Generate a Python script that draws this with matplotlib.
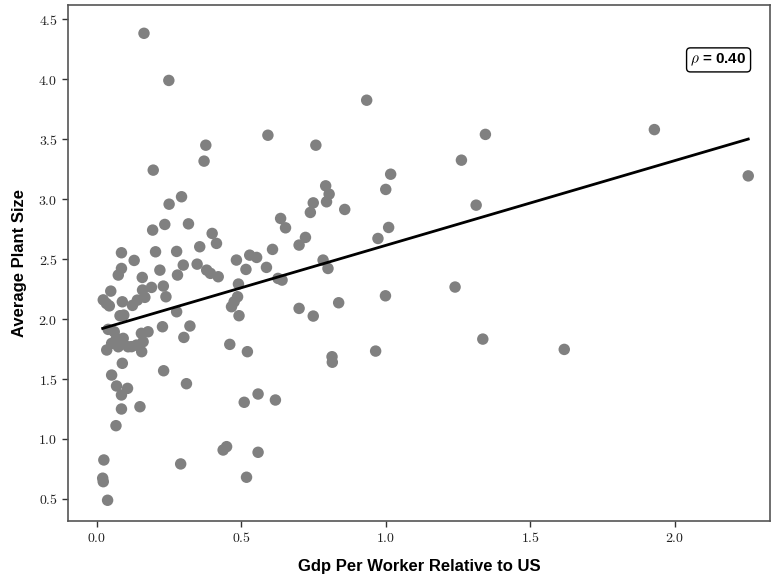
import numpy as np
import matplotlib
matplotlib.use("Agg")
import matplotlib.pyplot as plt
from matplotlib.ticker import FuncFormatter

plt.rcParams['mathtext.fontset'] = 'cm'

# GDP per worker relative to US (x) and average plant size (y)
gdp = [
    0.163, 0.249, 0.377, 0.371, 0.195, 0.293, 0.250, 0.235, 0.317, 0.193,
    0.399, 0.356, 0.414, 0.203, 0.276, 0.085, 0.129, 0.085, 0.074, 0.218,
    0.299, 0.279, 0.347, 0.380, 0.393, 0.420, 0.483, 0.529, 0.553, 0.516,
    0.157, 0.048, 0.022, 0.033, 0.043, 0.088, 0.158, 0.189, 0.230, 0.166,
    0.140, 0.123, 0.239, 0.080, 0.093, 0.276, 0.490, 0.487, 0.475, 0.466,
    0.492, 0.039, 0.060, 0.227, 0.322, 0.301, 0.460, 0.521,
    0.034, 0.051, 0.068, 0.074, 0.091, 0.108, 0.137, 0.154, 0.177, 0.160,
    0.155, 0.085, 0.120,
    0.088, 0.051, 0.231, 0.068, 0.106, 0.085, 0.085, 0.149, 0.066, 0.310,
    0.510, 0.558, 0.618, 0.024, 0.020, 0.022, 0.037, 0.290, 0.437, 0.449,
    0.518, 0.558,
    0.792, 0.804, 0.795, 0.749, 0.739, 0.858, 1.000, 1.010, 0.973, 0.636,
    0.653, 0.722, 0.700, 0.608, 0.587, 0.627, 0.641, 0.783, 0.800, 0.700,
    0.749, 0.837, 0.999, 0.814, 0.815, 0.965,
    0.592, 0.758, 0.934, 1.017,
    1.345, 1.262, 1.313, 1.930, 2.255, 1.240, 1.336, 1.618,
]
plant_size = [
    4.383, 3.990, 3.450, 3.317, 3.242, 3.020, 2.958, 2.789, 2.794, 2.742,
    2.714, 2.603, 2.631, 2.561, 2.564, 2.553, 2.489, 2.422, 2.367, 2.408,
    2.450, 2.367, 2.458, 2.408, 2.381, 2.353, 2.492, 2.533, 2.514, 2.414,
    2.347, 2.233, 2.160, 2.130, 2.110, 2.144, 2.242, 2.264, 2.275, 2.181,
    2.158, 2.114, 2.186, 2.028, 2.033, 2.061, 2.292, 2.186, 2.144, 2.103,
    2.028, 1.914, 1.894, 1.936, 1.942, 1.847, 1.789, 1.728,
    1.742, 1.797, 1.839, 1.769, 1.839, 1.769, 1.783, 1.881, 1.894, 1.811,
    1.728, 1.820, 1.770,
    1.631, 1.533, 1.569, 1.442, 1.422, 1.367, 1.250, 1.269, 1.111, 1.461,
    1.306, 1.375, 1.325, 0.825, 0.673, 0.644, 0.489, 0.792, 0.908, 0.936,
    0.681, 0.889,
    3.111, 3.042, 2.978, 2.969, 2.889, 2.914, 3.081, 2.764, 2.672, 2.839,
    2.761, 2.681, 2.617, 2.581, 2.431, 2.339, 2.325, 2.492, 2.422, 2.089,
    2.025, 2.136, 2.194, 1.686, 1.640, 1.733,
    3.533, 3.450, 3.825, 3.208,
    3.540, 3.325, 2.950, 3.580, 3.194, 2.267, 1.833, 1.747,
]
rho_value = 0.40
x_ticks = [0.0, 0.5, 1.0, 1.5, 2.0]
y_ticks = [0.5, 1.0, 1.5, 2.0, 2.5, 3.0, 3.5, 4.0, 4.5]

x = np.array(gdp)
y = np.array(plant_size)

fig = plt.figure(figsize=(7.73, 5.82), dpi=100)
ax = fig.add_axes([0.088, 0.105, 0.908, 0.886])

ax.scatter(x, y, s=68, color='#808080', edgecolors='none', zorder=2)

slope, intercept = np.polyfit(x, y, 1)
xl = np.array([x.min(), x.max()])
ax.plot(xl, intercept + slope * xl, color='black', lw=2, zorder=3)

ax.set_xlim(-0.10, 2.33)
ax.set_ylim(0.317, 4.617)
ax.set_xticks(x_ticks)
ax.set_yticks(y_ticks)
fmt = FuncFormatter(lambda v, p: r'$%.1f$' % v)
ax.xaxis.set_major_formatter(fmt)
ax.yaxis.set_major_formatter(fmt)
ax.tick_params(axis='both', direction='out', length=4, width=1, labelsize=10,
               color='#333333', labelcolor='#222222')

for side in ['left', 'bottom', 'top', 'right']:
    ax.spines[side].set_color('#555555')
    ax.spines[side].set_linewidth(1.2)

lab_font = dict(family=['Liberation Sans', 'DejaVu Sans'], weight='bold', size=12)
ax.set_xlabel('Gdp Per Worker Relative to US', fontdict=lab_font, labelpad=10)
ax.set_ylabel('Average Plant Size', fontdict=lab_font, labelpad=8)

ax.text(0.967, 0.894, r'$\rho$' + ' = %.2f' % rho_value, transform=ax.transAxes,
        ha='right', va='center', fontsize=11, weight='bold',
        family=['Liberation Sans', 'DejaVu Sans'],
        bbox=dict(boxstyle='round,pad=0.25', fc='white', ec='black', lw=1))

fig.savefig('out.png', dpi=100)
